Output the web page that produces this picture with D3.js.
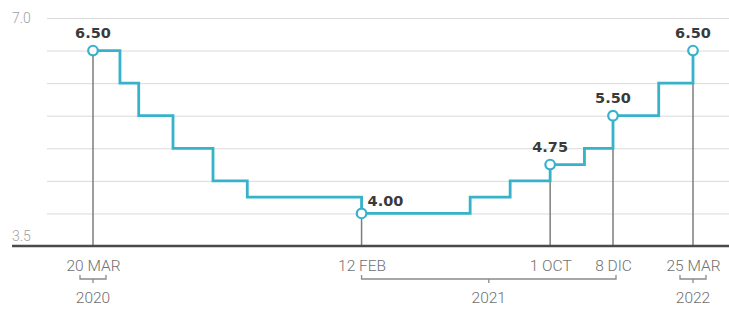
<!DOCTYPE html>
<html>
<head>
<meta charset="utf-8">
<script src="https://cdn.jsdelivr.net/npm/d3@7"></script>
<style>
  body { margin: 0; background: #fff; }
</style>
</head>
<body>
<script>
    // rate changes (effective date, rate %)
    const stepDates = ["2020-03-20", "2020-04-22", "2020-05-15", "2020-06-26", "2020-08-14", "2020-09-25",
        "2021-02-12", "2021-06-25", "2021-08-13", "2021-10-01", "2021-11-12", "2021-12-17", "2022-02-11", "2022-03-25"];
    const stepRates = [6.5, 6.0, 5.5, 5.0, 4.5, 4.25, 4.0, 4.25, 4.5, 4.75, 5.0, 5.5, 6.0, 6.5];

    // highlighted points
    const markDates = ["2020-03-20", "2021-02-12", "2021-10-01", "2021-12-17", "2022-03-25"];
    const markRates = [6.5, 4.0, 4.75, 5.5, 6.5];
    const markValueLabels = ["6.50", "4.00", "4.75", "5.50", "6.50"];
    const markTickLabels = ["20 MAR", "12 FEB", "1 OCT", "8 DIC", "25 MAR"];

    // years, as index ranges into the marks
    const yearLabels = ["2020", "2021", "2022"];
    const yearFirst = [0, 1, 4];
    const yearLast = [0, 3, 4];

    const yTicks = [3.5, 4, 4.5, 5, 5.5, 6, 6.5, 7];
    const yLabels = ["3.5", "", "", "", "", "", "", "7.0"];

    const width = 729, height = 315;
    const parse = d3.timeParse("%Y-%m-%d");
    const teal = "#36b2ca";
    const labelFont = "Roboto, sans-serif";

    const svg = d3.select("body").append("svg")
        .attr("width", width)
        .attr("height", height);

    const x = d3.scaleTime()
        .domain([parse("2020-03-20"), parse("2022-03-25")])
        .range([93, 693]);
    const y = d3.scaleLinear()
        .domain([3.5, 7])
        .range([246, 18]);

    // gridlines + y labels
    const yAxis = svg.append("g")
        .attr("transform", "translate(47,0)")
        .call(d3.axisLeft(y).tickValues(yTicks).tickSize(-(width - 47))
            .tickFormat((d, i) => yLabels[i]));
    yAxis.select(".domain").remove();
    yAxis.selectAll(".tick line").attr("stroke", "#dadada").attr("stroke-width", 1);
    yAxis.selectAll(".tick text")
        .attr("x", -35)
        .attr("text-anchor", "start")
        .attr("dy", d => d === 3.5 ? "-0.4em" : "0.3em")
        .attr("font-family", labelFont)
        .attr("font-weight", 300)
        .attr("font-size", "14px")
        .attr("fill", "#a0a0a0");

    // drop lines
    svg.selectAll(".drop")
        .data(markDates)
        .enter()
        .append("line")
        .attr("x1", d => x(parse(d)))
        .attr("x2", d => x(parse(d)))
        .attr("y1", (d, i) => y(markRates[i]))
        .attr("y2", y(3.5))
        .attr("stroke", "#7d7d7d")
        .attr("stroke-width", 1.5);

    // baseline + tick labels
    const xAxis = svg.append("g")
        .attr("transform", `translate(0,${y(3.5)})`)
        .call(d3.axisBottom(x).tickValues(markDates.map(parse)).tickSize(0)
            .tickFormat((d, i) => markTickLabels[i]));
    xAxis.select(".domain").remove();
    xAxis.selectAll(".tick text")
        .attr("y", 25)
        .attr("dy", 0)
        .attr("font-family", labelFont)
        .attr("font-weight", 300)
        .attr("font-size", "15.5px")
        .attr("fill", "#707070");
    svg.append("line")
        .attr("x1", 12).attr("x2", width)
        .attr("y1", y(3.5)).attr("y2", y(3.5))
        .attr("stroke", "#4a4a4a")
        .attr("stroke-width", 2.5);

    // year brackets
    yearLabels.forEach((label, i) => {
        let x1 = x(parse(markDates[yearFirst[i]]));
        let x2 = x(parse(markDates[yearLast[i]]));
        if (x1 === x2) { x1 -= 13; x2 += 13; } else { x2 += 3; }
        const xm = (x1 + x2) / 2;
        svg.append("path")
            .attr("d", `M${x1},275V279H${x2}V275M${xm},279V283`)
            .attr("fill", "none")
            .attr("stroke", "#8a8a8a")
            .attr("stroke-width", 1.3);
        svg.append("text")
            .attr("x", xm)
            .attr("y", 303)
            .attr("text-anchor", "middle")
            .attr("font-family", labelFont)
            .attr("font-weight", 300)
            .attr("font-size", "15.5px")
            .attr("fill", "#707070")
            .text(label);
    });

    // step line
    const line = d3.line()
        .x(d => x(parse(d[0])))
        .y(d => y(d[1]))
        .curve(d3.curveStepAfter);
    svg.append("path")
        .datum(stepDates.map((d, i) => [d, stepRates[i]]))
        .attr("d", line)
        .attr("fill", "none")
        .attr("stroke", teal)
        .attr("stroke-width", 2.8);

    // markers
    svg.selectAll(".mark")
        .data(markDates)
        .enter()
        .append("circle")
        .attr("cx", d => x(parse(d)))
        .attr("cy", (d, i) => y(markRates[i]))
        .attr("r", 4.8)
        .attr("fill", "#fff")
        .attr("stroke", teal)
        .attr("stroke-width", 2.2);

    // value labels
    svg.selectAll(".val")
        .data(markDates)
        .enter()
        .append("text")
        .attr("x", (d, i) => x(parse(d)) + (i === 1 ? 6 : 0))
        .attr("y", (d, i) => y(markRates[i]) - (i === 1 ? 7 : 13))
        .attr("text-anchor", (d, i) => i === 1 ? "start" : "middle")
        .attr("font-family", "'DejaVu Sans', sans-serif")
        .attr("font-weight", "bold")
        .attr("font-size", "14.5px")
        .attr("fill", "#3a3a3a")
        .text((d, i) => markValueLabels[i]);
</script>
</body>
</html>
